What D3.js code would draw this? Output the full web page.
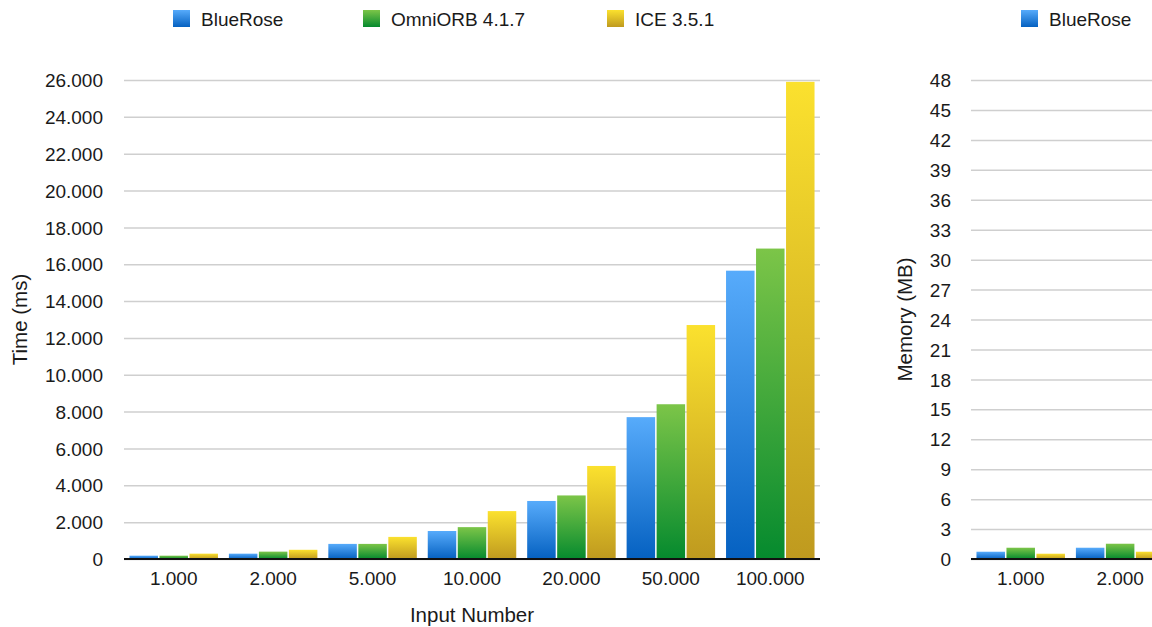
<!DOCTYPE html>
<html>
<head>
<meta charset="utf-8">
<script src="https://cdn.jsdelivr.net/npm/d3@7"></script>
<style>
  html, body { margin: 0; padding: 0; background: #fff; }
  svg { display: block; }
  text { font-family: "Liberation Sans", Arial, Helvetica, sans-serif; fill: #1a1a1a; }
</style>
</head>
<body>
<svg id="chart" width="1152" height="627"></svg>
<script>
// ---- Data ----
const categories = ["1.000", "2.000", "5.000", "10.000", "20.000", "50.000", "100.000"];
const seriesNames = ["BlueRose", "OmniORB 4.1.7", "ICE 3.5.1"];

// Time (ms) per input number
const timeBlueRose = [180, 290, 820, 1520, 3150, 7700, 15650];
const timeOmniORB  = [180, 400, 820, 1730, 3450, 8400, 16850];
const timeICE      = [290, 500, 1200, 2600, 5050, 12700, 25900];

// Memory (MB) – only the first two groups are visible in the frame
const memCategories = ["1.000", "2.000"];
const memBlueRose = [0.73, 1.13];
const memOmniORB  = [1.13, 1.53];
const memICE      = [0.53, 0.73];

const timeTicks = [0, 2000, 4000, 6000, 8000, 10000, 12000, 14000, 16000, 18000, 20000, 22000, 24000, 26000];
const memTicks = [0, 3, 6, 9, 12, 15, 18, 21, 24, 27, 30, 33, 36, 39, 42, 45, 48];

const colors = [
  { top: "#57abfb", bottom: "#0561c1" },
  { top: "#7cc548", bottom: "#058a2e" },
  { top: "#fbe12e", bottom: "#bf9a1f" }
];

// ---- Setup ----
const svg = d3.select("#chart");
const defs = svg.append("defs");
colors.forEach((c, i) => {
  const g = defs.append("linearGradient").attr("id", "grad" + i)
    .attr("x1", 0).attr("y1", 0).attr("x2", 0).attr("y2", 1);
  g.append("stop").attr("offset", "0%").attr("stop-color", c.top);
  g.append("stop").attr("offset", "100%").attr("stop-color", c.bottom);
});

const locale = d3.formatLocale({ decimal: ",", thousands: ".", grouping: [3], currency: ["", ""] });
const fmt = locale.format(",d");

const FONT = 19;
const TITLE_FONT = 20.5;

function drawChart(opts) {
  const { left, right, top, bottom, cats, allCats, series, ticks, domainMax, yTitle, yTitleX, labelRight, xTitle, tickFmt, legend } = opts;
  const g = svg.append("g");

  const x0 = d3.scaleBand().domain(allCats).range([left, right]).paddingInner(0.11).paddingOuter(0.055);
  const x1 = d3.scaleBand().domain(d3.range(series.length)).range([0, x0.bandwidth()]).paddingInner(0.05);
  const y = d3.scaleLinear().domain([0, domainMax]).range([bottom, top]);

  // gridlines
  const grid = d3.axisLeft(y).tickValues(ticks).tickSize(-(right - left)).tickFormat("");
  const gg = g.append("g").attr("transform", `translate(${left},0)`).call(grid);
  gg.select(".domain").remove();
  gg.selectAll("line").attr("stroke", "#cfcfcf").attr("stroke-width", 1.5);

  // y tick labels
  const yAxis = d3.axisLeft(y).tickValues(ticks).tickSize(0).tickPadding(0).tickFormat(tickFmt);
  const ya = g.append("g").attr("transform", `translate(${labelRight},0)`).call(yAxis);
  ya.select(".domain").remove();
  ya.selectAll("text").attr("font-size", FONT).attr("fill", "#1a1a1a")
    .attr("font-family", '"Liberation Sans", Arial, sans-serif').attr("dy", "0.35em");

  // bars
  cats.forEach((c, ci) => {
    series.forEach((s, si) => {
      g.append("rect")
        .attr("x", x0(c) + x1(si))
        .attr("y", y(s[ci]))
        .attr("width", x1.bandwidth())
        .attr("height", y(0) - y(s[ci]))
        .attr("fill", `url(#grad${si})`);
    });
  });

  // baseline
  g.append("line").attr("x1", left).attr("x2", right).attr("y1", y(0)).attr("y2", y(0))
    .attr("stroke", "#111").attr("stroke-width", 2);

  // x axis labels
  const xAxis = d3.axisBottom(x0).tickSize(0).tickPadding(0);
  const xa = g.append("g").attr("transform", `translate(0,${y(0)})`).call(xAxis);
  xa.select(".domain").remove();
  xa.selectAll(".tick").filter(d => !cats.includes(d)).remove();
  xa.selectAll("text").attr("font-size", FONT).attr("fill", "#1a1a1a")
    .attr("font-family", '"Liberation Sans", Arial, sans-serif')
    .attr("y", 26).attr("dy", 0);

  // y title
  g.append("text").attr("transform", `translate(${yTitleX},${(top + bottom) / 2}) rotate(-90)`)
    .attr("text-anchor", "middle").attr("dy", "0.35em").attr("font-size", TITLE_FONT).text(yTitle);

  // x title
  if (xTitle) {
    g.append("text").attr("x", (left + right) / 2).attr("y", 622)
      .attr("text-anchor", "middle").attr("font-size", TITLE_FONT).text(xTitle);
  }

  // legend
  legend.forEach(l => {
    g.append("rect").attr("x", l.x).attr("y", 10).attr("width", 17).attr("height", 17)
      .attr("fill", `url(#grad${l.i})`);
    g.append("text").attr("x", l.x + 28).attr("y", 26).attr("font-size", FONT).text(seriesNames[l.i]);
  });
}

drawChart({
  left: 124, right: 820, top: 80, bottom: 559,
  cats: categories, allCats: categories,
  series: [timeBlueRose, timeOmniORB, timeICE],
  ticks: timeTicks, domainMax: 26000,
  yTitle: "Time (ms)", yTitleX: 20, labelRight: 103,
  xTitle: "Input Number", tickFmt: d => fmt(d),
  legend: [{ i: 0, x: 173 }, { i: 1, x: 363 }, { i: 2, x: 607 }]
});

drawChart({
  left: 971, right: 1667, top: 80, bottom: 559,
  cats: memCategories, allCats: categories,
  series: [memBlueRose, memOmniORB, memICE],
  ticks: memTicks, domainMax: 48,
  yTitle: "Memory (MB)", yTitleX: 905, labelRight: 951,
  xTitle: null, tickFmt: d => String(d),
  legend: [{ i: 0, x: 1021 }]
});
</script>
</body>
</html>
